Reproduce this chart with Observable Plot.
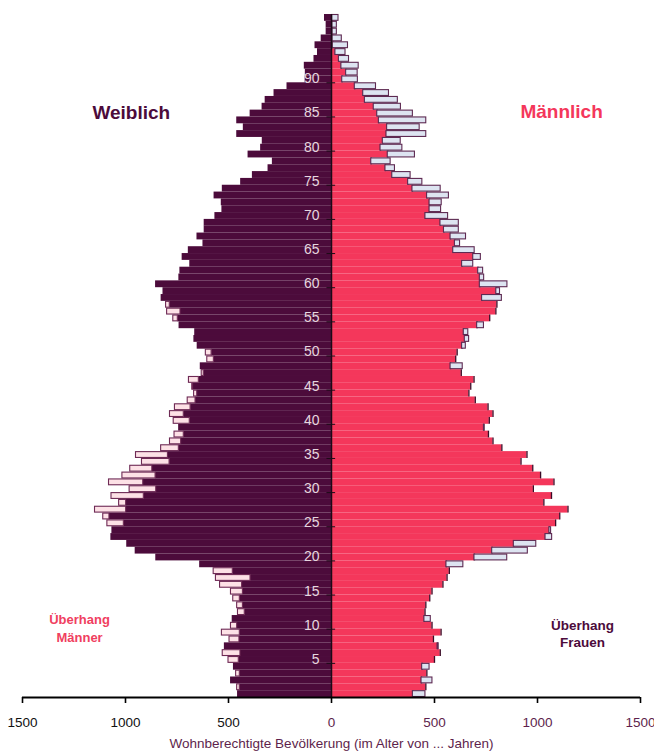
<!DOCTYPE html>
<html><head><meta charset="utf-8">
<script src="https://cdn.jsdelivr.net/npm/d3@7"></script>
<script src="https://cdn.jsdelivr.net/npm/@observablehq/plot@0.6"></script>
<style>body{margin:0;background:#fff} #chart{width:654px;height:751px}</style>
</head><body><div id="chart"></div>
<script>
// Women (left) and men (right) by single year of age, index = age 0..99
const women = [456,445,490,445,476,450,442,520,447,445,
  458,482,421,430,445,430,434,393,479,640,
  853,953,994,1071,1066,1008,1078,997,997,911,
  851,914,854,870,786,794,741,730,717,742,
  688,717,684,660,652,672,644,620,637,571,
  582,652,668,664,740,746,733,785,827,818,
  854,741,736,688,725,695,624,653,618,618,
  566,532,535,570,530,441,384,308,287,405,
  344,336,460,428,460,395,337,322,279,216,
  128,127,132,85,68,80,50,26,26,34];
const men = [395,458,437,463,440,500,528,515,495,532,
  488,451,454,458,477,488,541,561,572,558,
  694,780,885,1039,1058,1088,1108,1148,1031,1068,
  980,1080,1015,977,920,949,827,784,762,740,
  766,784,760,698,667,676,692,630,578,603,
  610,634,647,642,707,768,798,803,731,800,
  720,720,712,634,688,591,599,578,546,529,
  456,476,476,464,393,372,295,262,193,273,
  238,249,267,270,230,222,205,162,154,113,
  52,71,48,36,19,6,5,5,4,3];
const yTicks = [5,10,15,20,25,30,35,40,45,50,55,60,65,70,75,80,85,90];
const xTicksLeft = [-1500,-1000,-500];
const xTicksRight = [0,500,1000,1500];
const labelWomen = "Weiblich";
const labelMen = "Männlich";
const labelExcessMen = "Überhang\nMänner";
const labelExcessWomen = "Überhang\nFrauen";
const axisTitle = "Wohnberechtigte Bevölkerung (im Alter von ... Jahren)";

const rows = women.map((w, i) => ({age: i, women: w, men: men[i]}));
const excessMen = rows.filter(d => d.men > d.women);
const excessWomen = rows.filter(d => d.women > d.men);

const DARK = "#4c0b3b";
const RED = "#f4375b";
const PURPLE = "#5e1f4c";
const fmt = d => String(Math.abs(d));

const chart = Plot.plot({
  width: 654,
  height: 751,
  marginLeft: 22,
  marginRight: 14,
  marginTop: 14,
  marginBottom: 54,
  style: {fontFamily: "'Liberation Sans', Arial, sans-serif", background: "#fff", overflow: "visible"},
  x: {domain: [-1500, 1500], axis: null},
  y: {domain: [0, 100], axis: null},
  marks: [
    Plot.rectX(rows, {y1: "age", y2: d => d.age + 1, x1: 0, x2: d => -d.women, fill: DARK}),
    Plot.rectX(rows, {y1: "age", y2: d => d.age + 1, x1: 0, x2: "men", fill: RED}),
    Plot.ruleX(rows, {x: "men", y1: "age", y2: d => d.age + 1, stroke: "#3a0a26", strokeWidth: 1.3}),
    Plot.rectX(excessMen, {y1: "age", y2: d => d.age + 1, x1: d => -d.women, x2: d => -d.men,
      fill: "#fde1e6", stroke: "#6e2a55", strokeWidth: 1.1, insetTop: 0.5, insetBottom: 0.5}),
    Plot.rectX(excessWomen, {y1: "age", y2: d => d.age + 1, x1: "men", x2: "women",
      fill: "#dde4f1", stroke: "#5e2a52", strokeWidth: 1.1, insetTop: 0.5, insetBottom: 0.5}),
    Plot.ruleX([0], {stroke: "#1c0a16", strokeWidth: 1.5}),
    Plot.ruleY(yTicks, {y: d => d, x1: -22, x2: 20, stroke: "#1c0a16", strokeWidth: 1}),
    Plot.text(yTicks, {x: 0, y: d => d, text: d => String(d), dx: -12, dy: -4, textAnchor: "end",
      fill: "#e6d6df", fontSize: 14}),
    Plot.ruleY([0], {stroke: "#000", strokeWidth: 2}),
    Plot.axisX(xTicksLeft, {tickFormat: fmt, tickSize: 6, tickPadding: 14,
      fontSize: 13.5, stroke: "#000", fill: "#111", strokeWidth: 1.6, label: null}),
    Plot.axisX(xTicksRight, {tickFormat: fmt, tickSize: 6, tickPadding: 14,
      fontSize: 13.5, stroke: "#000", fill: PURPLE, strokeWidth: 1.6, label: null}),
    Plot.text([axisTitle], {frameAnchor: "bottom", dy: 50, text: d => d, fill: PURPLE, fontSize: 13.5}),
    Plot.text([labelWomen], {x: -972, y: 85.6, text: d => d, fill: DARK, fontSize: 19, fontWeight: "bold"}),
    Plot.text([labelMen], {x: 1117, y: 85.8, text: d => d, fill: RED, fontSize: 19, fontWeight: "bold"}),
    Plot.text([labelExcessMen], {x: -1223, y: 10.3, text: d => d, fill: "#f0405f", fontSize: 13, fontWeight: "bold", lineHeight: 1.35}),
    Plot.text([labelExcessWomen], {x: 1218, y: 9.4, text: d => d, fill: DARK, fontSize: 13.5, fontWeight: "bold", lineHeight: 1.2})
  ]
});
document.getElementById("chart").append(chart);
</script>
</body></html>
